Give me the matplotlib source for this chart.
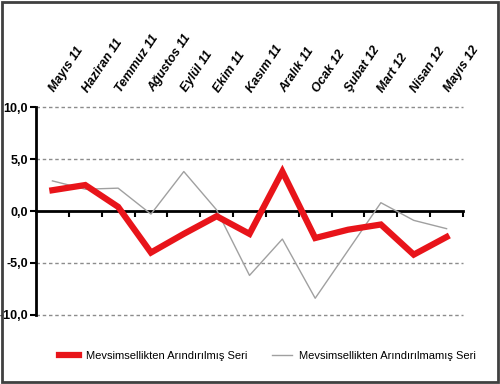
import numpy as np
import matplotlib.pyplot as plt
from matplotlib.patches import Rectangle

# Aylar ve seriler
months = ['Mayıs 11', 'Haziran 11', 'Temmuz 11', 'Ağustos 11', 'Eylül 11', 'Ekim 11',
          'Kasım 11', 'Aralık 11', 'Ocak 12', 'Şubat 12', 'Mart 12', 'Nisan 12', 'Mayıs 12']
adjusted = [2.0, 2.5, 0.4, -4.0, -2.2, -0.5, -2.2, 3.8, -2.6, -1.8, -1.3, -4.2, -2.5]
unadjusted = [2.9, 2.1, 2.2, -0.3, 3.8, 0.1, -6.2, -2.7, -8.4, -3.8, 0.8, -0.9, -1.7]
yticks = [-10, -5, 0, 5, 10]

plt.rcParams['font.family'] = ['Liberation Sans', 'DejaVu Sans']

fig = plt.figure(figsize=(5, 3.84), dpi=100)
ax = fig.add_axes([0.072, 0.180, 0.854, 0.541])

x = np.arange(len(months))
ax.plot(x, adjusted, color='#e8141a', linewidth=4.5, solid_joinstyle='miter',
        label='Mevsimsellikten Arındırılmış Seri', zorder=4)
ax.plot(x, unadjusted, color='#a0a0a0', linewidth=1.0,
        label='Mevsimsellikten Arındırılmamış Seri', zorder=3)

ax.set_xlim(-0.5, len(months) - 0.5)
ax.set_ylim(-10, 10)

# dashed grid except zero line
for v in yticks:
    if v != 0:
        ax.axhline(v, color='#8c8c8c', linestyle=(0, (2.5, 2)), linewidth=1.0,
                   zorder=1, clip_on=False)

for s in ['top', 'right']:
    ax.spines[s].set_visible(False)
ax.spines['bottom'].set_position(('data', 0))
ax.spines['bottom'].set_linewidth(2)
ax.spines['left'].set_linewidth(2)
ax.spines['bottom'].set_zorder(2)

ax.set_yticks(yticks)
ax.set_yticklabels([('%.1f' % v).replace('.', ',') for v in yticks],
                   fontsize=9, fontweight='bold')
ax.tick_params(axis='y', direction='out', length=4, width=1.5, pad=2)

ax.set_xticks(x)
ax.set_xticks(list(x[:-1] + 0.5) + [len(months) - 0.5], minor=True)
ax.tick_params(axis='x', which='major', length=0, labelbottom=False, labeltop=True,
               bottom=False, top=False)
ax.tick_params(axis='x', which='minor', direction='out', length=4, width=1.5, top=False)
ax.set_xticklabels(months, rotation=56, ha='left', va='center', rotation_mode='anchor',
                   fontsize=9, fontweight='bold', fontstyle='italic')
for t in ax.get_xticklabels():
    t.set_y(1.055)

ax.legend(loc='center', bbox_to_anchor=(0.535, 0.073), bbox_transform=fig.transFigure,
          ncol=2, frameon=False, fontsize=8, handlelength=1.8, handletextpad=0.6,
          columnspacing=2.2)

fig.add_artist(Rectangle((0.003, 0.004), 0.992, 0.99, transform=fig.transFigure,
                         fill=False, edgecolor='#404040', linewidth=2))

fig.savefig('out.png', dpi=100)
